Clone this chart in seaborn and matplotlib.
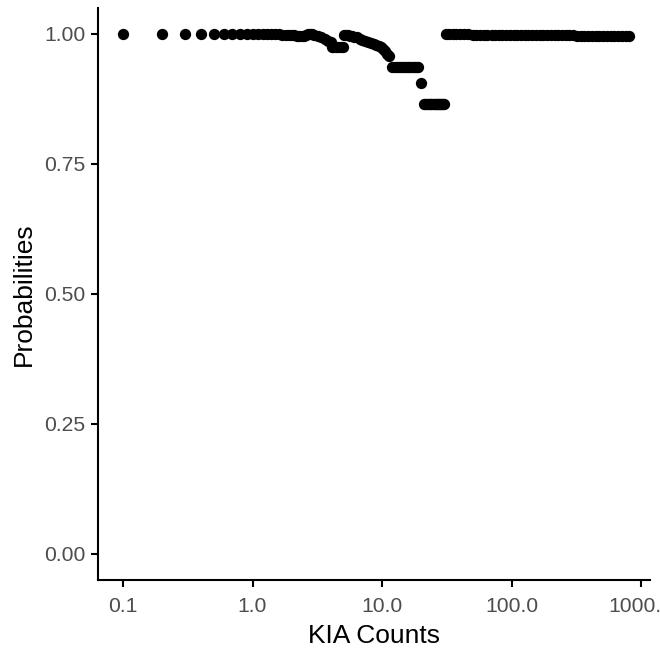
import matplotlib
matplotlib.use("Agg")
import matplotlib.pyplot as plt
import seaborn as sns
import pandas as pd

# ---- data ----
kia_counts = [
    0.1, 0.2, 0.3, 0.4, 0.5, 0.6, 0.7, 0.8, 0.9, 1.0,
    1.1, 1.2, 1.3, 1.4, 1.5, 1.6, 1.7, 1.8, 1.9, 2.0,
    2.1, 2.2, 2.3, 2.4, 2.5, 2.6, 2.7, 2.8, 2.9, 3.0,
    3.2, 3.4, 3.6, 3.8, 4.0,
    4.1, 4.2, 4.4, 4.6, 4.8, 5.0,
    5.1, 5.3, 5.5, 5.7, 5.9, 6.1, 6.4, 6.7, 7.0, 7.4, 7.8, 8.2,
    8.6, 9.0, 9.4, 9.8, 10.2, 10.6, 11.0, 11.4,
    12.0, 12.5, 13.0, 13.5, 14.0, 14.5, 15.0, 15.5, 16.0, 16.5,
    17.0, 17.5, 18.0, 18.5, 19.0,
    20.0,
    21.0, 21.5, 22.0, 22.5, 23.0, 23.5, 24.0, 24.5, 25.0, 25.5,
    26.0, 26.5, 27.0, 27.5, 28.0, 28.5, 29.0, 29.5, 30.0,
    31, 33, 35, 37, 40, 43, 46, 50, 53, 57, 61, 65, 70, 75, 80, 85,
    91, 97, 104, 111, 118, 126, 135, 144, 154, 165, 176, 188, 200,
    215, 230, 245, 262, 280, 300, 320, 342, 365, 390, 417, 446, 477,
    510, 545, 583, 623, 666, 712, 760, 800,
]
probabilities = [
    1.0, 1.0, 1.0, 1.0, 1.0, 1.0, 1.0, 1.0, 1.0, 1.0,
    1.0, 1.0, 0.999, 0.999, 0.999, 0.999, 0.998, 0.998, 0.998, 0.997,
    0.997, 0.996, 0.995, 0.995, 0.996, 0.998, 1.0, 1.0, 0.999, 0.998,
    0.996, 0.993, 0.990, 0.987, 0.984,
    0.975, 0.975, 0.975, 0.975, 0.975, 0.975,
    0.998, 0.997, 0.997, 0.996, 0.995, 0.994, 0.993, 0.991, 0.989, 0.987, 0.985, 0.983,
    0.981, 0.979, 0.977, 0.974, 0.971, 0.967, 0.962, 0.957,
    0.937, 0.937, 0.937, 0.937, 0.937, 0.937, 0.937, 0.937, 0.937, 0.937,
    0.937, 0.937, 0.937, 0.937, 0.937,
    0.905,
    0.865, 0.865, 0.865, 0.865, 0.865, 0.865, 0.865, 0.865, 0.865, 0.865,
    0.865, 0.865, 0.865, 0.865, 0.865, 0.865, 0.865, 0.865, 0.865,
    0.999, 0.999, 0.999, 0.999, 0.999, 0.999, 0.999, 0.998, 0.998, 0.998, 0.998, 0.998, 0.997, 0.997, 0.997, 0.997,
    0.997, 0.997, 0.997, 0.997, 0.997, 0.997, 0.997, 0.997, 0.997, 0.997, 0.997, 0.997, 0.997,
    0.997, 0.997, 0.997, 0.997, 0.997, 0.997, 0.996, 0.996, 0.996, 0.996, 0.996, 0.996, 0.996,
    0.996, 0.996, 0.996, 0.996, 0.996, 0.996, 0.996, 0.996,
]
x_ticks = [0.1, 1.0, 10.0, 100.0, 1000.0]
x_tick_labels = ["0.1", "1.0", "10.0", "100.0", "1000.0"]
y_ticks = [0.0, 0.25, 0.5, 0.75, 1.0]
y_tick_labels = ["0.00", "0.25", "0.50", "0.75", "1.00"]

df = pd.DataFrame({"KIA Counts": kia_counts, "Probabilities": probabilities})

# ---- styling ----
sns.set_style("ticks")
plt.rcParams["font.family"] = ["Liberation Sans", "DejaVu Sans"]

fig = plt.figure(figsize=(6.6, 6.53), dpi=100)
ax = fig.add_axes([0.1485, 0.1118, 0.985 - 0.1485, 0.988 - 0.1118])

sns.scatterplot(data=df, x="KIA Counts", y="Probabilities", ax=ax,
                color="black", s=66, linewidth=0, legend=False)

ax.set_xscale("log")
ax.set_xlim(0.0641, 1174)
ax.set_ylim(-0.05, 1.05)
ax.set_xticks(x_ticks)
ax.set_xticklabels(x_tick_labels)
ax.set_yticks(y_ticks)
ax.set_yticklabels(y_tick_labels)
ax.minorticks_off()

for side in ["top", "right"]:
    ax.spines[side].set_visible(False)
for side in ["left", "bottom"]:
    ax.spines[side].set_linewidth(1.5)
    ax.spines[side].set_color("black")

ax.tick_params(axis="both", which="major", length=5, width=1.5, color="black",
               labelsize=15.2, labelcolor="#4D4D4D", pad=4)
ax.tick_params(axis="x", pad=7)
ax.set_xlabel("KIA Counts", fontsize=19, color="black", labelpad=6)
ax.set_ylabel("Probabilities", fontsize=19, color="black", labelpad=6)
ax.grid(False)

fig.savefig("out.png", dpi=100)
